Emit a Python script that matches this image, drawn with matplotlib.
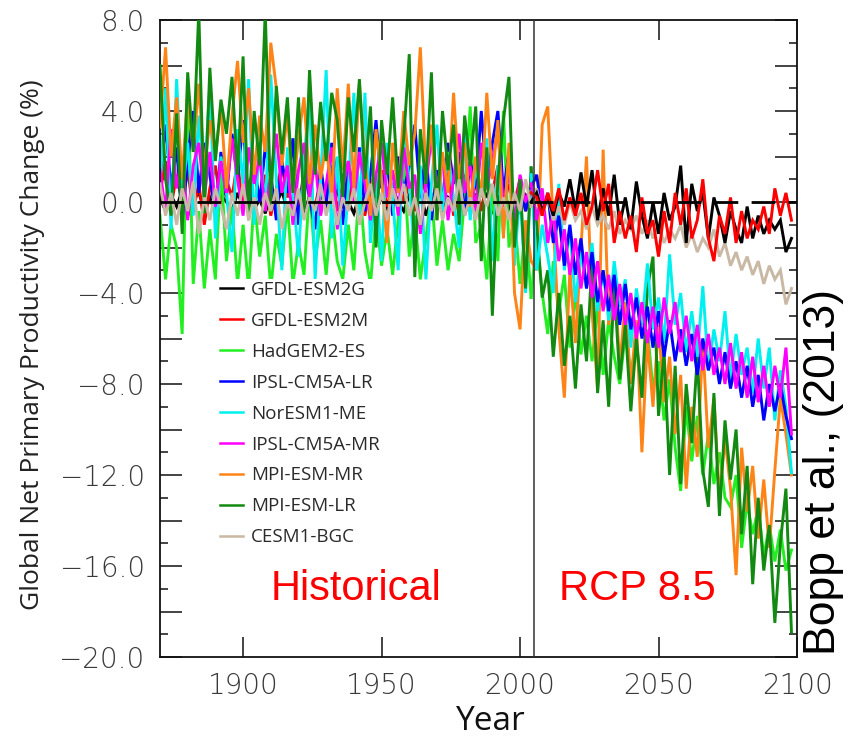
import numpy as np
import matplotlib
matplotlib.use("Agg")
import matplotlib.pyplot as plt
from matplotlib.ticker import MultipleLocator, FuncFormatter

# ---------------- data ----------------
hist_years = np.arange(1870, 2005, 2)   # 1870 ... 2004
rcp_years = np.arange(2006, 2099, 2)    # 2006 ... 2098

models = ["GFDL-ESM2G", "GFDL-ESM2M", "HadGEM2-ES", "IPSL-CM5A-LR", "NorESM1-ME",
          "IPSL-CM5A-MR", "MPI-ESM-MR", "MPI-ESM-LR", "CESM1-BGC"]

gfdl_esm2g_hist = [0.2, -0.4, 0.3, -0.2, 0.5, -0.6, 0.1, 0.4, -0.3, 0.2,
                   -0.5, 0.3, 0.0, -0.4, 0.4, -0.2, 0.6, -0.3, 0.1, -0.5,
                   0.3, -0.1, 0.5, -0.4, 0.2, 0.0, -0.6, 0.3, -0.2, 0.4,
                   -0.3, 0.1, 0.5, -0.2, 0.0, -0.5, 0.3, -0.1, 0.4, -0.4,
                   0.2, -0.3, 0.6, 0.0, -0.4, 0.3, -0.2, 0.5, -0.6, 0.1,
                   0.4, -0.3, 0.2, -0.1, 0.5, -0.5, 0.0, 0.3, -0.2, 0.4,
                   -0.4, 0.1, 0.6, -0.3, 0.2, -0.4, 0.3, 0.0]
gfdl_esm2g_rcp = [0.4, -0.4, 0.2, -0.6, 0.4, -0.2, 1.0, -0.4, 1.3, -0.2,
                  1.4, -0.8, 0.6, -0.6, 1.2, -1.0, 0.2, -1.2, 0.9, -0.6,
                  -1.6, 0.0, -1.4, 0.4, -0.8, -0.2, 1.6, -1.8, 0.8, -0.4,
                  0.4, -1.6, 0.2, -0.6, -1.8, -0.4, -1.2, -1.8, -0.2, -1.6,
                  -0.6, -1.4, -0.8, -1.2, -0.8, -2.2, -1.6]

gfdl_esm2m_hist = [0.4, 1.8, -0.2, 1.2, 0.0, 1.4, -0.4, 0.8, -1.0, 0.6,
                   1.6, -0.2, 1.0, 0.2, 1.8, -0.4, 0.8, 1.4, 0.0, 1.2,
                   -0.6, 0.6, 1.6, 0.2, 1.0, -0.4, 1.4, 0.4, -0.2, 1.0,
                   0.2, 1.6, -0.4, 0.8, 0.0, 1.2, 0.4, -0.6, 1.0, 0.2,
                   1.4, -0.2, 0.6, 1.6, 0.0, 0.8, -0.4, 1.2, 0.4, -0.2,
                   1.0, 0.2, 1.4, -0.6, 0.6, 1.2, 0.0, 0.8, -0.4, 1.0,
                   0.4, 1.6, -0.2, 0.8, 0.0, 1.0, -0.4, 0.4]
gfdl_esm2m_rcp = [0.2, -0.6, 0.4, -0.4, 0.6, -0.8, 0.2, -0.6, 0.4, -1.0,
                  -0.2, 1.4, -0.4, 0.8, -1.8, -0.4, -1.6, -0.6, -2.2, 0.2,
                  -1.4, -0.8, -2.4, -0.4, -1.8, 0.4, -1.0, 0.6, -1.6, -0.8,
                  1.0, -1.6, -2.6, -0.6, -1.4, 0.2, -1.8, -0.4, -1.6, -0.8,
                  -1.2, -0.2, -1.4, 0.6, -0.6, 0.4, -0.8]

hadgem2_es_hist = [-0.6, -3.4, -1.0, -2.0, -5.8, 5.4, -3.6, -0.4, -3.8, -1.2,
                   -3.4, 1.6, -2.6, -0.2, -3.6, -1.0, -3.8, 0.2, -2.4, -0.6,
                   -3.8, -1.4, -2.8, 0.0, -3.6, -1.8, -3.2, 0.6, -2.6, -0.8,
                   -3.2, -0.4, -2.6, -3.4, -1.0, -3.0, 0.8, -2.2, -3.6, -0.6,
                   -2.8, -1.2, -3.2, -0.8, 1.8, -2.4, -0.6, -3.4, -1.6, 0.4,
                   -2.8, -0.8, -3.0, -1.4, -2.6, 0.2, 4.2, -1.8, -1.0, -3.4,
                   0.6, -2.6, 4.0, -2.0, -0.6, -3.6, -1.0, -4.2]
hadgem2_es_rcp = [-1.5, -4.0, -5.8, -2.6, -4.8, -3.2, -6.4, -4.0, -6.7, -5.0,
                  -7.0, -4.6, -7.6, -5.2, -6.8, -8.0, -5.8, -7.5, -6.2, -8.6,
                  -5.6, -8.2, -7.0, -9.6, -7.8, -10.8, -12.7, -9.0, -11.4, -9.4,
                  -12.0, -10.2, -12.4, -11.0, -13.0, -13.4, -12.0, -15.2, -13.2, -14.6,
                  -13.4, -15.6, -14.2, -15.8, -14.4, -16.2, -15.3]

ipsl_lr_hist = [1.0, 3.4, 0.6, 2.4, -0.8, 1.8, 4.0, 0.4, 2.6, 1.2,
                -0.6, 2.2, 0.2, 3.0, 1.0, 3.6, -0.4, 1.6, 0.0, 2.4,
                1.2, -0.8, 1.8, 0.4, 2.8, -1.0, 1.4, 0.2, -1.2, 1.6,
                -0.2, 2.6, 0.8, -1.0, 1.8, 0.4, 2.4, -0.4, 1.2, 3.6,
                0.6, 1.8, -0.6, 2.0, 0.4, 1.6, 3.4, 0.2, 2.2, -0.8,
                1.4, 0.0, 2.6, 0.8, 2.2, -0.6, 1.8, 0.6, 4.0, 1.0,
                2.6, 4.0, 0.4, 2.2, -1.6, 0.8, -0.4, 0.6]
ipsl_lr_rcp = [1.2, -0.6, 0.4, -1.8, -0.6, -2.8, -1.0, -3.2, -1.6, -3.8,
               -2.2, -4.4, -3.0, -4.8, -3.2, -5.4, -3.6, -5.6, -4.2, -6.0,
               -4.6, -6.4, -4.8, -6.8, -5.2, -7.0, -5.6, -7.2, -5.8, -7.6,
               -6.0, -7.4, -6.4, -8.0, -6.6, -8.2, -7.0, -8.6, -7.2, -9.0,
               -7.6, -9.6, -8.0, -9.2, -8.0, -9.4, -10.4]

noresm_hist = [0.6, 5.0, -1.2, 5.4, 0.2, 2.6, -0.6, 3.8, 0.8, 5.2,
               -1.6, 2.0, 0.4, -2.2, 3.2, 0.8, 5.4, -1.0, 2.6, -0.4,
               5.6, 1.0, -3.0, 2.4, 0.4, -2.4, 1.8, 4.8, -3.4, 1.0,
               5.8, -1.6, 2.0, -2.8, 0.6, 4.8, -0.6, 4.8, -1.8, 1.2,
               -2.6, 2.6, 0.2, -3.0, 3.6, 0.8, -2.4, 1.6, -3.4, 0.8,
               3.4, -0.4, 2.2, 0.2, -2.0, 3.0, -0.8, 1.6, 0.2, 2.8,
               -2.6, 1.6, -1.4, 2.2, -2.8, 0.6, -4.0, 1.2]
noresm_rcp = [-3.0, -1.0, -2.4, -4.0, 0.8, -3.0, -1.2, -4.4, -2.2, -3.8,
              -1.8, -4.8, -3.0, -5.2, -2.6, -4.6, -3.4, -6.4, -3.8, -5.4,
              -2.7, -5.6, -4.2, -6.2, -2.3, -5.4, -4.0, -6.6, -4.8, -6.8,
              -3.7, -7.4, -5.6, -7.0, -4.8, -7.8, -5.8, -7.6, -6.4, -8.4,
              -6.0, -8.2, -6.4, -9.6, -7.4, -9.0, -11.9]

ipsl_mr_hist = [1.4, -0.4, 3.2, 0.6, 2.0, -0.8, 1.6, 2.6, 0.2, 2.2,
                -0.2, 1.8, 0.4, 2.8, 1.0, -0.6, 2.4, 0.8, 2.0, -0.4,
                1.2, 3.0, 0.4, 1.6, -1.0, 1.4, 2.6, 0.2, 1.8, -0.6,
                0.8, 2.4, -1.2, 0.6, 1.8, 0.0, 2.2, 0.8, -0.8, 1.2,
                2.6, 0.2, 1.4, -0.6, 2.4, 0.6, 1.2, -1.4, 0.8, 2.8,
                0.6, 2.0, -0.8, 1.0, 3.0, 0.4, 1.6, -0.4, 2.6, 0.6,
                1.8, 3.2, -0.2, 1.4, -1.0, 1.2, 0.0, 0.8]
ipsl_mr_rcp = [-0.8, 0.6, -1.8, -0.4, -2.6, -1.2, -3.2, -1.6, -3.8, -2.2,
               -4.2, -2.6, -4.8, -3.2, -5.2, -3.6, -5.4, -4.0, -6.0, -4.4,
               -6.2, -4.6, -6.4, -4.2, -5.8, -4.4, -6.6, -5.0, -7.0, -5.4,
               -7.4, -5.8, -7.6, -6.4, -8.0, -6.2, -8.2, -6.6, -8.6, -6.8,
               -8.8, -7.2, -9.0, -7.2, -8.6, -6.4, -10.2]

mpi_mr_hist = [3.3, 6.8, 2.0, 4.6, 1.0, 4.8, 2.2, 5.2, 1.4, 3.6,
               2.0, 4.2, 0.6, 3.8, 6.2, 2.6, 5.0, 1.2, 3.8, 2.2,
               7.0, 5.0, 1.6, 3.9, 0.4, 2.8, 4.6, 0.8, 3.4, 1.0,
               2.6, 0.2, 5.0, 1.4, 5.2, 0.6, 5.2, 1.8, -0.6, 3.2,
               1.0, -1.8, 2.6, 0.4, 4.0, 1.6, 3.0, 6.8, 1.2, 3.4,
               -0.8, 2.2, 0.4, 4.8, 1.0, 2.6, -0.2, 2.0, 0.2, 4.8,
               1.0, 3.6, -1.6, 2.6, -4.0, -5.6, -0.8, -2.6]
mpi_mr_rcp = [-3.0, 3.4, 4.2, -1.0, -5.6, -8.6, -3.0, -6.2, -2.0, 2.0,
              -4.8, -8.2, 2.3, -5.4, -3.0, -7.2, -4.4, -8.0, -5.2, -11.0,
              -6.0, -9.0, -5.4, -8.8, -6.8, -10.2, -7.6, -12.6, -9.0, -11.2,
              -6.2, -10.8, -8.6, -13.0, -10.4, -12.6, -16.4, -10.8, -13.6, -11.6,
              -14.8, -12.2, -15.2, -11.8, -8.6, -10.2, -12.0]

mpi_lr_hist = [6.0, 1.0, -0.6, 3.9, -1.4, 5.7, 2.2, 8.4, -0.5, 5.9,
               1.8, 4.5, 3.0, 5.5, 1.2, 6.4, -0.8, 4.0, 1.6, 8.4,
               -0.2, 5.1, 2.1, 4.6, 0.4, 4.6, -0.4, 5.8, 1.2, 4.4,
               1.8, 4.8, 3.6, 0.2, 4.6, 2.2, 5.4, 1.0, 4.2, -2.0,
               3.6, 1.2, 4.6, 0.6, 2.8, 6.5, -3.3, 3.2, 0.8, 5.7,
               -0.8, 4.0, 1.4, 3.4, -1.0, 3.8, 1.6, 4.2, -2.6, 2.4,
               -5.0, 1.0, 3.6, 5.5, -2.0, 1.0, -3.8, 1.5]
mpi_lr_rcp = [-1.0, -4.2, -3.0, -6.8, -4.0, -7.2, -5.0, -8.2, -4.5, -7.0,
              -2.6, -8.4, -5.2, -9.0, -3.6, -7.8, -5.4, -9.2, -6.0, -8.6,
              -3.8, -2.4, -9.4, -6.6, -12.0, -7.2, -12.4, -8.0, -10.6, -6.8,
              -11.8, -13.4, -8.4, -13.8, -9.6, -12.2, -10.0, -14.6, -11.6, -16.8,
              -13.0, -16.2, -14.2, -18.5, -15.0, -12.6, -18.9]

cesm_hist = [0.8, -0.6, 0.4, -1.0, 0.6, -0.4, 0.9, -1.4, 0.2, -0.8,
             0.6, -0.2, -1.2, 0.4, -0.6, 0.8, -0.8, 0.2, -1.0, 0.4,
             -0.4, 0.6, -1.2, 0.0, -0.6, 0.6, -0.8, 0.2, -0.4, 0.8,
             -0.6, 0.4, -1.0, 0.2, -0.4, 0.6, -1.0, 0.0, 0.8, -0.6,
             0.4, -0.8, 0.6, -0.2, 0.8, -0.6, 0.2, -1.0, 0.4, -0.4,
             0.6, -0.8, 0.2, -0.4, 1.0, -0.6, 0.2, -0.8, 0.6, -0.2,
             0.8, -0.6, 0.2, -0.8, 0.4, -0.4, 1.0, -0.2]
cesm_rcp = [0.6, -0.6, 0.2, -0.8, -0.2, -1.0, 0.0, -0.8, -0.4, -1.2,
            -0.2, -1.0, -0.6, -1.2, -0.4, -1.4, -0.8, -1.2, -0.6, -1.4,
            -0.8, -1.6, -1.0, -1.8, -1.2, -1.6, -1.0, -2.0, -1.4, -2.2,
            -1.6, -2.0, -1.2, -2.4, -1.8, -2.8, -2.2, -3.0, -2.4, -3.2,
            -2.6, -3.6, -2.8, -3.4, -3.0, -4.5, -3.8]

colors = ["#000000", "#ff0000", "#22ee22", "#0000ff", "#00f0f0",
          "#ff00ff", "#ff8418", "#128a12", "#c9b8a4"]

hist_series = [gfdl_esm2g_hist, gfdl_esm2m_hist, hadgem2_es_hist, ipsl_lr_hist, noresm_hist,
               ipsl_mr_hist, mpi_mr_hist, mpi_lr_hist, cesm_hist]
rcp_series = [gfdl_esm2g_rcp, gfdl_esm2m_rcp, hadgem2_es_rcp, ipsl_lr_rcp, noresm_rcp,
              ipsl_mr_rcp, mpi_mr_rcp, mpi_lr_rcp, cesm_rcp]

# ---------------- figure ----------------
fig = plt.figure(figsize=(8.5, 7.41), dpi=100)
ax = fig.add_axes([160 / 850, 1 - 657 / 741, 637 / 850, 637 / 741])

lw = 2.1
# historical period: legend order, CESM on top
for i, name in enumerate(models):
    ax.plot(hist_years, hist_series[i], color=colors[i], lw=lw, label=name,
            zorder=2 + i * 0.1, solid_joinstyle="miter")

# RCP 8.5 period (connected to the last historical year)
rcp_order = [2, 6, 7, 4, 3, 5, 8, 0, 1]
for k, i in enumerate(rcp_order):
    x = np.concatenate([hist_years[-1:], rcp_years])
    y = np.concatenate([hist_series[i][-1:], rcp_series[i]])
    ax.plot(x, y, color=colors[i], lw=lw, zorder=3 + k * 0.1, solid_joinstyle="miter")

zero = ax.axhline(0, color="black", lw=2.0, zorder=6)
zero.set_dashes([8.5, 4.8])
ax.axvline(2005, color="#333333", lw=1.1, zorder=7)

ax.set_xlim(1870, 2100)
ax.set_ylim(-20, 8)

ax.xaxis.set_major_locator(MultipleLocator(50))
ax.yaxis.set_major_locator(MultipleLocator(2))
ax.yaxis.set_minor_locator(MultipleLocator(1))


def yfmt(v, pos):
    if abs(v % 4) < 1e-6:
        if abs(v) < 1e-9:
            return "0.0"
        return ("\u2212" if v < 0 else "") + "%.1f" % abs(v)
    return ""


ax.yaxis.set_major_formatter(FuncFormatter(yfmt))
ax.tick_params(axis="both", which="both", direction="in", top=True, right=True,
               colors="#111111", labelcolor="#3a3a3a")
ax.tick_params(axis="y", which="major", length=15.5, width=1.1, pad=11, labelsize=20)
ax.tick_params(axis="y", which="minor", length=6, width=1.1)
ax.tick_params(axis="x", which="major", length=14.5, width=1.1, pad=11, labelsize=20)
for lab in ax.get_xticklabels() + ax.get_yticklabels():
    lab.set_family("DejaVu Sans")
    lab.set_fontweight("light")
for sp in ax.spines.values():
    sp.set_linewidth(1.3)
    sp.set_color("#111111")

# legend
leg = ax.legend(loc="upper left", bbox_to_anchor=((218 - 160) / 637, (657 - 279) / 637),
                frameon=True, borderpad=0.1, borderaxespad=0, handlelength=1.22,
                handletextpad=0.45, labelspacing=0.69,
                prop={"family": "Open Sans", "size": 13.5})
leg.get_frame().set_facecolor("white")
leg.get_frame().set_edgecolor("none")
leg.get_frame().set_alpha(1.0)
leg.get_frame().set_boxstyle("square", pad=0)
for t in leg.get_texts():
    t.set_color("#2a2a2a")
for h in leg.get_lines():
    h.set_linewidth(1.8)

# period labels
ax.text(1909.9, -17.5, "Historical", color="#ff0000", fontsize=30,
        family="Liberation Sans", ha="left", va="baseline", zorder=8)
ax.text(2014.2, -17.5, "RCP 8.5", color="#ff0000", fontsize=30,
        family="Liberation Sans", ha="left", va="baseline", zorder=8)

# axis titles
fig.text(33 / 850, 1 - 345 / 741, "Global Net Primary Productivity Change (%)",
         rotation=90, ha="center", va="center", fontsize=19, family="Open Sans",
         color="#222222")
fig.text(491 / 850, 11 / 741, "Year", ha="center", va="baseline", fontsize=24,
         family="Open Sans", color="#111111")
fig.text(823 / 850, 1 - 472 / 741, "Bopp et al., (2013)", rotation=90,
         ha="center", va="center", fontsize=32, family="Liberation Sans", color="black")

fig.savefig("out.png", dpi=100)
